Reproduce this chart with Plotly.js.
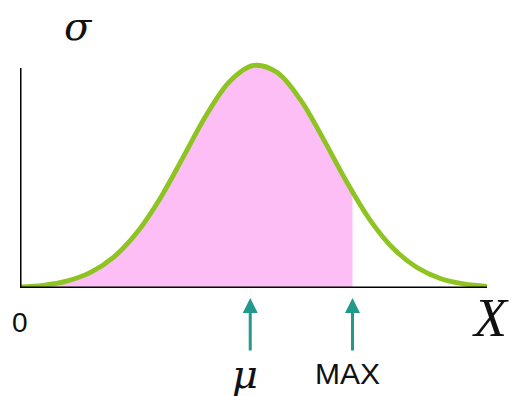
<!DOCTYPE html>
<html>
<head>
<meta charset="utf-8">
<script src="https://cdn.plot.ly/plotly-3.0.1.min.js"></script>
<style>
  html, body { margin: 0; padding: 0; background: #ffffff; }
  #chart { width: 512px; height: 396px; }
</style>
</head>
<body>
<div id="chart"></div>
<script>
// Bell-shaped curve, sampled along the horizontal axis (0..10)
const curveX = [0, 0.5, 1, 1.5, 2, 2.5, 3, 3.5, 4, 4.5, 5, 5.5, 6, 6.5, 7, 7.5, 8, 8.5, 9, 9.5, 10];
const curveY = [0.005, 0.012, 0.030, 0.067, 0.134, 0.242, 0.393, 0.576, 0.762, 0.908, 0.976,
                0.946, 0.827, 0.652, 0.464, 0.297, 0.172, 0.090, 0.042, 0.018, 0.007];

// Marked positions on the X axis
const markNames = ['μ', 'MAX'];
const markX = [4.93, 7.12];
const maxX = markX[1];

// Axis labels
const originLabel = '0';
const xAxisLabel = 'X';
const yAxisLabel = 'σ';

// Plot-area geometry (pixels) used to place the free text
const L = 20, R = 487, T = 60, B = 288;
const W = R - L, H = B - T;
const px = v => (v - L) / W;
const py = v => (B - v) / H;

const serif = '"Liberation Serif", "DejaVu Serif", serif';
const greek = '"DejaVu Serif", serif';
const sans = '"Liberation Sans", Arial, sans-serif';
const teal = '#21998b';

const traces = [
  // shaded area from 0 up to MAX: drawn on an axis whose domain ends at MAX
  {
    x: curveX, y: curveY, xaxis: 'x', yaxis: 'y',
    type: 'scatter', mode: 'lines',
    line: { shape: 'spline', width: 0, color: 'rgba(0,0,0,0)' },
    fill: 'tozeroy', fillcolor: '#fdbdf5',
    hoverinfo: 'skip', showlegend: false
  },
  // the curve itself
  {
    x: curveX, y: curveY, xaxis: 'x2', yaxis: 'y',
    type: 'scatter', mode: 'lines',
    line: { shape: 'spline', width: 4.8, color: '#8ec421' },
    hoverinfo: 'skip', showlegend: false
  }
];

const annotations = [
  { text: '<i>' + yAxisLabel + '</i>', xref: 'paper', yref: 'paper', x: px(78), y: py(26),
    showarrow: false, font: { family: greek, size: 40, color: '#111' },
    xanchor: 'center', yanchor: 'middle' },
  { text: originLabel, xref: 'paper', yref: 'paper', x: px(20), y: py(322),
    showarrow: false, font: { family: sans, size: 28, color: '#111' },
    xanchor: 'center', yanchor: 'middle' },
  { text: '<i>' + xAxisLabel + '</i>', xref: 'paper', yref: 'paper', x: px(490), y: py(318),
    showarrow: false, font: { family: serif, size: 54, color: '#111' },
    xanchor: 'center', yanchor: 'middle' }
];

markNames.forEach((name, i) => {
  // upward arrow pointing at the axis
  annotations.push({
    text: '', xref: 'x2', yref: 'paper', x: markX[i], y: py(298),
    showarrow: true, ax: 0, ay: 54, arrowhead: 2, arrowsize: 1,
    arrowwidth: 3, arrowcolor: teal
  });
  // label below the arrow
  annotations.push({
    text: i === 0 ? '<i>' + name + '</i>' : name,
    xref: 'x2', yref: 'paper', x: markX[i], xshift: -5,
    y: i === 0 ? py(374) : py(373),
    showarrow: false,
    font: i === 0 ? { family: greek, size: 40, color: '#111' }
                  : { family: sans, size: 30, color: '#111' },
    xanchor: 'center', yanchor: 'middle'
  });
});

const layout = {
  width: 512, height: 396,
  margin: { l: L, r: 512 - R, t: T, b: 396 - B, pad: 0 },
  paper_bgcolor: '#ffffff', plot_bgcolor: 'rgba(0,0,0,0)',
  showlegend: false,
  xaxis: { domain: [0, maxX / 10], range: [0, maxX], visible: false, fixedrange: true },
  xaxis2: { domain: [0, 1], range: [0, 10], anchor: 'y', visible: false, fixedrange: true },
  yaxis: { range: [0, 1], visible: false, fixedrange: true },
  shapes: [
    { type: 'line', xref: 'x2', yref: 'y', x0: 0, x1: 0, y0: 0, y1: py(68),
      line: { color: '#000', width: 3 } },
    { type: 'line', xref: 'x2', yref: 'y', x0: 0, x1: 10, y0: 0, y1: 0,
      line: { color: '#000', width: 3 } }
  ],
  annotations: annotations
};

Plotly.newPlot('chart', traces, layout, { displayModeBar: false, staticPlot: true });
</script>
</body>
</html>
